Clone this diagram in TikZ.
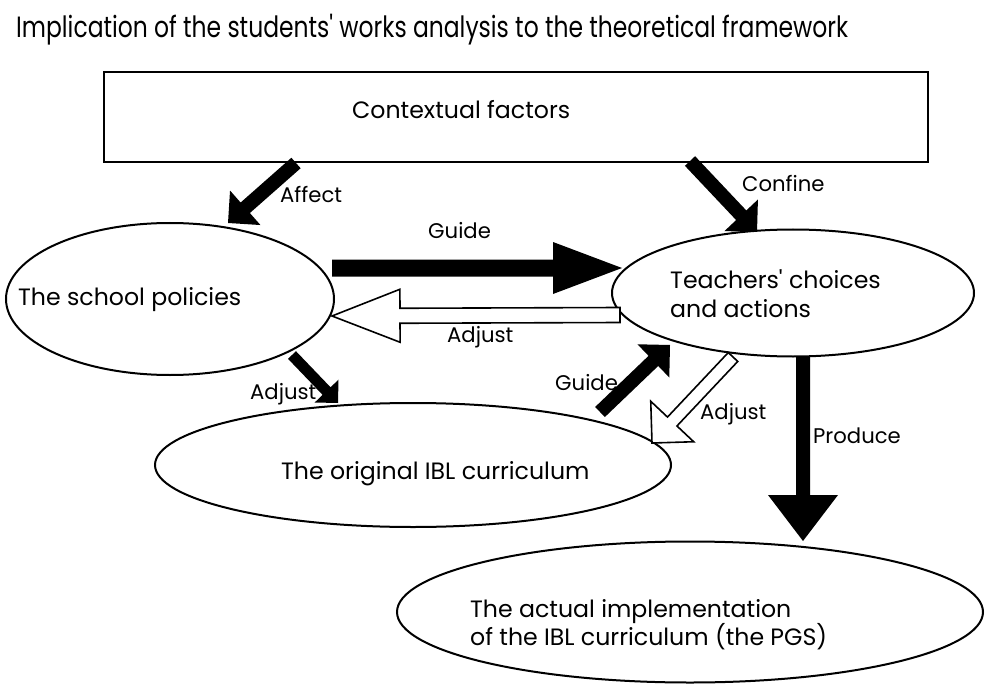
\documentclass[tikz,border=0pt]{standalone}
\usepackage{fontspec}
\setmainfont{Poppins}[Ligatures=TeXOff]
\newfontfamily\titlefont[FakeStretch=0.8,Ligatures=TeXOff]{Poppins}
\usetikzlibrary{shapes.geometric,calc}

\newlength\refw
\tikzset{
  frame/.style={draw, line width=2pt, rectangle, inner sep=0pt},
  oval/.style={draw, ellipse, line width=2pt, inner sep=0pt},
  txt/.style={inner sep=0pt, anchor=base west, text=black,
    font=\fontsize{\mainfs pt}{\mainbs pt}\selectfont},
  lbl/.style={inner sep=0pt, anchor=base west, text=black,
    font=\fontsize{\lblfs pt}{\lblbs pt}\selectfont},
  solidarrow/.style={fill=black, draw=none},
  hollowarrow/.style={fill=white, draw=black, line width=1.6pt, line join=miter},
}
% style, tail, tip, half shaft width, half head width, head length
\newcommand\blockarrow[6]{%
  \coordinate (bahead) at ($(#3)!#6!(#2)$);
  \path[#1] ($(#2)!#4!90:(#3)$) -- ($(bahead)!#4!90:(#3)$) --
    ($(bahead)!#5!90:(#3)$) -- (#3) -- ($(bahead)!#5!-90:(#3)$) --
    ($(bahead)!#4!-90:(#3)$) -- ($(#2)!#4!-90:(#3)$) -- cycle;
}

\begin{document}
\settowidth{\refw}{\fontsize{10pt}{12pt}\selectfont Contextual factors}%
\pgfmathsetmacro\mainfs{10*218/\refw}%
\pgfmathsetmacro\mainbs{1.2*\mainfs}%
\settowidth{\refw}{\fontsize{10pt}{12pt}\selectfont ConfineProduce}%
\pgfmathsetmacro\lblfs{10*170/\refw}%
\pgfmathsetmacro\lblbs{1.2*\lblfs}%
\begin{tikzpicture}[x=1pt, y=-1pt]
\useasboundingbox (0,0) rectangle (985,687);

% title
\node[inner sep=0pt, anchor=base west] (title) at (16,38) {\resizebox{832pt}{!}{\titlefont Implication of the students' works analysis to the theoretical framework}};

% shapes
\node[frame, minimum width=824pt, minimum height=90pt] (ctx) at (516,117) {};
\node[oval, minimum width=328pt, minimum height=152pt] (school) at (170,299) {};
\node[oval, minimum width=362pt, minimum height=127pt] (teach) at (793,293) {};
\node[oval, minimum width=516pt, minimum height=124pt] (ibl) at (413,465) {};
\node[oval, minimum width=586pt, minimum height=141pt] (actual) at (690,612) {};

% texts
\node[txt] (ctxt) at (352,119) {Contextual factors};
\node[txt] (schoolt) at (18,305) {The school policies};
\node[txt] (teacht1) at (670,288) {Teachers' choices};
\node[txt] (teacht2) at (670,317) {and actions};
\node[txt] (iblt) at (281,479) {The original IBL curriculum};
\node[txt] (actualt1) at (470,617) {The actual implementation};
\node[txt] (actualt2) at (470,645) {of the IBL curriculum (the PGS)};

% arrow end points
\coordinate (affA) at (296,163);  \coordinate (affB) at (228,223);
\coordinate (conA) at (690,161);  \coordinate (conB) at (757,232);
\coordinate (guiA) at (332,268);  \coordinate (guiB) at (622,268);
\coordinate (adjA) at (620,315);  \coordinate (adjB) at (332,316);
\coordinate (adsA) at (292,355);  \coordinate (adsB) at (338,403);
\coordinate (gusA) at (600,412);  \coordinate (gusB) at (670,345);
\coordinate (aduA) at (733,357);  \coordinate (aduB) at (652,443);
\coordinate (proA) at (803,356);  \coordinate (proB) at (803,541);

% arrows
\blockarrow{solidarrow}{affA}{affB}{7pt}{23pt}{23pt}
\blockarrow{solidarrow}{conA}{conB}{7pt}{23pt}{23pt}
\blockarrow{solidarrow}{guiA}{guiB}{8.5pt}{26pt}{69pt}
\blockarrow{hollowarrow}{adjA}{adjB}{7.5pt}{26.5pt}{68pt}
\blockarrow{solidarrow}{adsA}{adsB}{5.5pt}{16.5pt}{16.5pt}
\blockarrow{solidarrow}{gusA}{gusB}{7pt}{23pt}{23pt}
\blockarrow{hollowarrow}{aduA}{aduB}{6.5pt}{29.5pt}{29.5pt}
\blockarrow{solidarrow}{proA}{proB}{7pt}{35pt}{46pt}

% labels
\node[lbl] (laff) at (280,203) {Affect};
\node[lbl] (lgui) at (428,239) {Guide};
\node[lbl] (ladj) at (447,342) {Adjust};
\node[lbl] (lcon) at (742,192) {Confine};
\node[lbl] (lads) at (250,399) {Adjust};
\node[lbl] (lgus) at (555,390) {Guide};
\node[lbl] (ladu) at (700,419) {Adjust};
\node[lbl] (lpro) at (813,443) {Produce};
\end{tikzpicture}
\end{document}
